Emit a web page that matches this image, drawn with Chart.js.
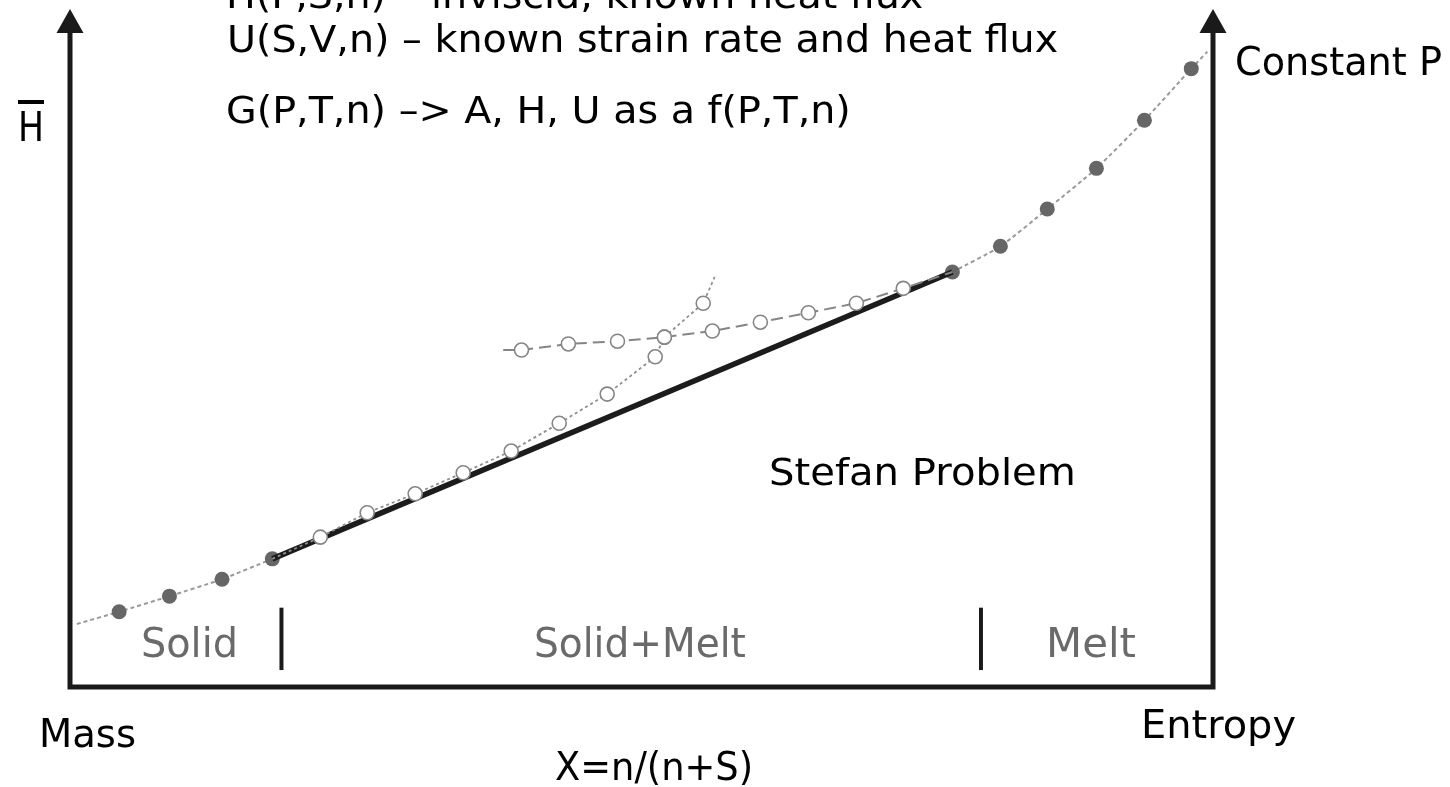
<!DOCTYPE html>
<html>
<head>
<meta charset="utf-8">
<title>Stefan Problem</title>
<script src="https://cdn.jsdelivr.net/npm/chart.js@4.4.1/dist/chart.umd.min.js"></script>
<style>
    html, body { margin: 0; padding: 0; background: #fff; }
    #wrap { position: relative; width: 1450px; height: 787px; overflow: hidden; }
    #chart { position: absolute; left: 0; top: 0; }
    .lbl {
        position: absolute;
        white-space: nowrap;
        line-height: 1;
        font-family: 'DejaVu Sans', sans-serif;
        transform-origin: 0 0;
    }
    .lbl i { display: inline-block; width: 0; height: 0; }
    .bar span {
        text-decoration: overline;
        text-decoration-thickness: 4px;
    }
</style>
</head>
<body>
<div id="wrap">
    <canvas id="chart" width="1450" height="787"></canvas>
</div>
<script>
// ==================== 数据 (x: 0-100, H: 0-100) ====================

// solid branch (filled dots, left)
const solidX = [0.6, 4.3, 8.7, 13.3, 17.7];
const solidH = [9.3, 11.1, 13.4, 15.9, 18.9];

// melt branch (filled dots, right)
const meltX = [77.2, 81.4, 85.5, 89.8, 94.0, 98.1, 99.5];
const meltH = [61.2, 65.0, 70.5, 76.5, 83.6, 91.2, 93.7];

// Stefan problem tie line
const stefanX = [17.7, 77.2];
const stefanH = [18.9, 61.2];

// metastable branch from the melt side (open circles, dashed)
const branchAX = [37.9, 39.5, 43.6, 47.9, 52.0, 56.2, 60.4, 64.6, 68.8, 72.9, 77.2];
const branchAH = [49.7, 49.7, 50.6, 51.0, 51.6, 52.5, 53.8, 55.2, 56.6, 58.8, 61.2];

// metastable branch from the solid side (open circles, dotted)
const branchBX = [17.7, 21.9, 26.0, 30.2, 34.4, 38.6, 42.8, 47.0, 51.2, 52.0, 55.4, 56.4];
const branchBH = [18.9, 22.1, 25.7, 28.5, 31.6, 34.8, 38.9, 43.2, 48.7, 51.6, 56.6, 60.5];

// phase boundaries
const dividerX = [18.5, 79.7];
const dividerH = [2.5, 11.7];

// text
const topLines = [
    'H(P,S,n) – inviscid, known heat flux',
    'U(S,V,n) – known strain rate and heat flux',
    'G(P,T,n) –> A, H, U as a f(P,T,n)'
];
const regionNames = ['Solid', 'Solid+Melt', 'Melt'];

function pts(xs, ys) {
    return xs.map((x, i) => ({ x: x, y: ys[i] }));
}

// 端点不画点
function endsHidden(r, hideFirst, hideLast) {
    return ctx => {
        const n = ctx.dataset.data.length;
        if (hideFirst && ctx.dataIndex === 0) return 0;
        if (hideLast && ctx.dataIndex === n - 1) return 0;
        return r;
    };
}

const datasets = [];

dividerX.forEach(x => {
    datasets.push({
        data: pts([x, x], dividerH),
        showLine: true,
        borderColor: '#1a1a1a',
        borderWidth: 4,
        pointRadius: 0
    });
});

datasets.push({
    data: pts(branchBX, branchBH),
    showLine: true,
    borderColor: '#8f8f8f',
    borderWidth: 1.8,
    borderDash: [3, 3],
    pointRadius: endsHidden(7, true, true),
    pointBackgroundColor: '#fff',
    pointBorderColor: '#858585',
    pointBorderWidth: 1.6
});

datasets.push({
    data: pts(branchAX, branchAH),
    showLine: true,
    borderColor: '#858585',
    borderWidth: 2,
    borderDash: [12, 6],
    pointRadius: endsHidden(7, true, true),
    pointBackgroundColor: '#fff',
    pointBorderColor: '#858585',
    pointBorderWidth: 1.6
});

datasets.push({
    data: pts(stefanX, stefanH),
    showLine: true,
    borderColor: '#1c1c1c',
    borderWidth: 5.5,
    pointRadius: 0
});

datasets.push({
    data: pts(solidX, solidH),
    showLine: true,
    borderColor: '#9a9a9a',
    borderWidth: 2,
    borderDash: [4, 3],
    tension: 0.2,
    pointRadius: endsHidden(7.5, true, false),
    pointBackgroundColor: '#666',
    pointBorderWidth: 0
});

datasets.push({
    data: pts(meltX, meltH),
    showLine: true,
    borderColor: '#9a9a9a',
    borderWidth: 2,
    borderDash: [4, 3],
    tension: 0.2,
    pointRadius: endsHidden(7.5, false, true),
    pointBackgroundColor: '#666',
    pointBorderWidth: 0
});

// 坐标轴 + 箭头
const axesPlugin = {
    id: 'axesPlugin',
    afterDatasetsDraw(chart) {
        const { ctx, scales: { x, y } } = chart;
        const x0 = x.getPixelForValue(0);
        const x1 = x.getPixelForValue(100);
        const y0 = y.getPixelForValue(0);
        const yTop = y.getPixelForValue(100);
        const head = 24, half = 13.5;

        ctx.save();
        ctx.strokeStyle = '#1a1a1a';
        ctx.fillStyle = '#1a1a1a';
        ctx.lineWidth = 5;
        ctx.lineCap = 'square';
        ctx.beginPath();
        ctx.moveTo(x0, yTop + head);
        ctx.lineTo(x0, y0);
        ctx.lineTo(x1, y0);
        ctx.lineTo(x1, yTop + head);
        ctx.stroke();

        [x0, x1].forEach(px => {
            ctx.beginPath();
            ctx.moveTo(px, yTop);
            ctx.lineTo(px - half, yTop + head);
            ctx.lineTo(px + half, yTop + head);
            ctx.closePath();
            ctx.fill();
        });
        ctx.restore();
    }
};

new Chart(document.getElementById('chart'), {
    type: 'scatter',
    data: { datasets: datasets },
    options: {
        responsive: false,
        animation: false,
        layout: { padding: { left: 70, right: 237, top: 9, bottom: 100 } },
        scales: {
            x: { type: 'linear', min: 0, max: 100, display: false },
            y: { type: 'linear', min: 0, max: 100, display: false }
        },
        plugins: { legend: { display: false }, tooltip: { enabled: false } },
        clip: false
    },
    plugins: [axesPlugin]
});

// 文字标签 (left, baseline, width, size, color)
const labels = [
    { t: topLines[0], x: 226, b: 8, size: 37, c: '#000', fit: 'top' },
    { t: topLines[1], x: 227, b: 52, size: 37, c: '#000', w: 831, fit: 'top' },
    { t: topLines[2], x: 226, b: 123, size: 37, c: '#000', fit: 'top' },
    { t: 'Stefan Problem', x: 769, b: 485, size: 38, c: '#000', w: 307 },
    { t: regionNames[0], x: 141, b: 657, size: 40, c: '#6a6a6a', w: 97 },
    { t: regionNames[1], x: 534, b: 657, size: 40, c: '#6a6a6a', w: 212 },
    { t: regionNames[2], x: 1046, b: 657, size: 40, c: '#6a6a6a', w: 90 },
    { t: 'Mass', x: 39, b: 747, size: 39, c: '#000', w: 97 },
    { t: 'Entropy', x: 1141, b: 738, size: 39, c: '#000', w: 155 },
    { t: 'X=n/(n+S)', x: 555, b: 780, size: 39, c: '#000', w: 198 },
    { t: 'Constant P', x: 1235, b: 75, size: 39, c: '#000', w: 207 },
    { t: 'H', x: 18, b: 141, size: 40, c: '#000', w: 26, cls: 'bar' }
];

const wrap = document.getElementById('wrap');
let topScale = 1;
const els = labels.map(l => {
    const d = document.createElement('div');
    d.className = 'lbl' + (l.cls ? ' ' + l.cls : '');
    d.style.fontSize = l.size + 'px';
    d.style.color = l.c;
    d.style.left = l.x + 'px';
    d.style.top = '0px';
    const s = document.createElement('span');
    s.textContent = l.t;
    d.appendChild(s);
    d.appendChild(document.createElement('i'));
    wrap.appendChild(d);
    return d;
});

els.forEach((d, i) => {
    const l = labels[i];
    const w = d.querySelector('span').getBoundingClientRect().width;
    if (l.fit === 'top' && l.w) topScale = l.w / w;
});

els.forEach((d, i) => {
    const l = labels[i];
    const w = d.querySelector('span').getBoundingClientRect().width;
    const base = d.querySelector('i').getBoundingClientRect().top - wrap.getBoundingClientRect().top;
    d.style.top = (l.b - base) + 'px';
    const sx = l.fit === 'top' ? topScale : (l.w ? l.w / w : 1);
    d.style.transform = 'scaleX(' + sx.toFixed(3) + ')';
});
</script>
</body>
</html>
